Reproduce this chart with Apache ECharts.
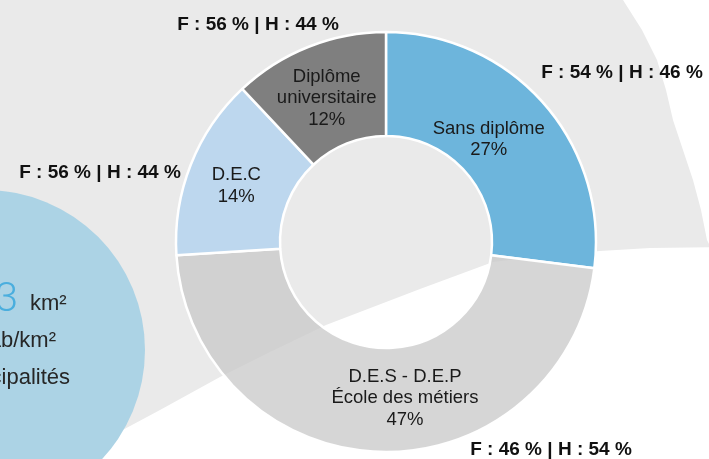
<!DOCTYPE html>
<html>
<head>
<meta charset="utf-8">
<script src="https://cdn.jsdelivr.net/npm/echarts@6/dist/echarts.min.js"></script>
<style>
  html, body { margin: 0; padding: 0; background: #fff; }
  #main { width: 709px; height: 459px; }
</style>
</head>
<body>
<div id="main"></div>
<script>
// niveaux de scolarité
const categories = ['Sans diplôme', 'D.E.S - D.E.P\nÉcole des métiers', 'D.E.C', 'Diplôme\nuniversitaire'];
const shares = [27, 47, 14, 12];
const femmes = [54, 46, 56, 56];
const hommes = [46, 54, 44, 44];
const sliceColors = ['#6db5dc', 'rgba(201,201,201,0.76)', '#bdd7ee', '#7f7f7f'];

// where the F/H notes sit (center of text)
const notePos = [[622, 73], [551, 450], [100, 173], [258, 25]];
const labelOffsets = [[-18, 4], [24, -5], [0, 3], [0, 6]];

const font = '"Liberation Sans", Arial, sans-serif';

const chart = echarts.init(document.getElementById('main'));

// background map-ish shape
const greyShape = [
  [-10, -10], [623, -10], [623, 0], [642, 30], [657, 60], [666, 90], [673, 120],
  [683, 150], [693, 180], [701, 210], [707, 240], [709, 244], [720, 244],
  [720, 247], [650, 248], [600, 251], [550, 255], [493, 262], [420, 289],
  [326, 325], [270, 352], [220, 377], [160, 410], [117, 433], [60, 470], [-10, 470]
];

const notes = categories.map((c, i) => ({
  type: 'text',
  z: 100,
  style: {
    text: 'F : ' + femmes[i] + ' % | H : ' + hommes[i] + ' %',
    x: notePos[i][0],
    y: notePos[i][1],
    textAlign: 'center',
    textVerticalAlign: 'middle',
    font: 'bold 19px ' + font,
    fill: '#111'
  }
}));

chart.setOption({
  animation: false,
  graphic: [
    { type: 'polygon', z: 0, shape: { points: greyShape }, style: { fill: '#eaeaea' } },
    { type: 'circle', z: 1, shape: { cx: -15, cy: 350, r: 160 }, style: { fill: '#acd3e5' } },
    { type: 'text', z: 5, style: { text: '3', x: 18, y: 321, textAlign: 'right', textVerticalAlign: 'bottom',
        font: '300 41px Roboto, ' + font, fill: '#4aaede' } },
    { type: 'text', z: 5, style: { text: 'km²', x: 30, y: 315, textAlign: 'left', textVerticalAlign: 'bottom',
        font: '22px ' + font, fill: '#262626' } },
    { type: 'text', z: 5, style: { text: 'hab/km²', x: 56, y: 352, textAlign: 'right', textVerticalAlign: 'bottom',
        font: '22px ' + font, fill: '#262626' } },
    { type: 'text', z: 5, style: { text: 'municipalités', x: 70, y: 389, textAlign: 'right', textVerticalAlign: 'bottom',
        font: '22px ' + font, fill: '#262626' } }
  ].concat(notes),
  series: [{
    type: 'pie',
    center: [386, 242],
    radius: [106, 210],
    startAngle: 90,
    clockwise: true,
    avoidLabelOverlap: false,
    itemStyle: { borderColor: '#fff', borderWidth: 2.5 },
    label: {
      show: true,
      position: 'inside',
      formatter: '{b}\n{c}%',
      fontFamily: font,
      fontSize: 18.5,
      lineHeight: 21.5,
      color: '#1a1a1a',
      align: 'center'
    },
    labelLine: { show: false },
    emphasis: { disabled: true },
    data: categories.map((c, i) => ({
      name: c,
      value: shares[i],
      itemStyle: { color: sliceColors[i] },
      label: { offset: labelOffsets[i] }
    }))
  }]
});
</script>
</body>
</html>
